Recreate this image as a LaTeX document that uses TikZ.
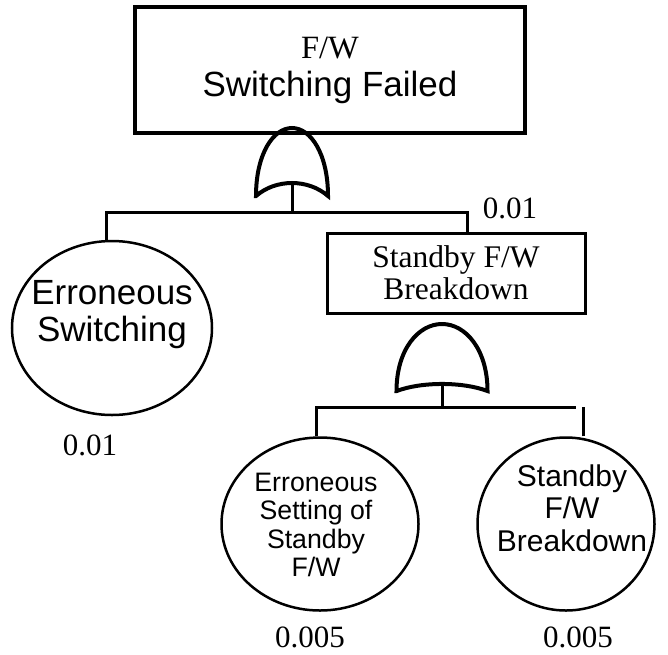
\documentclass[tikz,border=0pt]{standalone}
\usepackage{fontspec}
\setmainfont{Liberation Serif}
\setsansfont{Liberation Sans}
\usetikzlibrary{shapes.geometric, positioning}

% OR gate, base at the origin, unit half width and unit height; #1 sets the dip of the base
\tikzset{
  pics/orgate/.style={code={
    \draw[line width=4pt] (-1,0) .. controls (-1,-0.62) and (-0.52,-1) .. (0,-1)
      .. controls (0.52,-1) and (1,-0.62) .. (1,0)
      .. controls (0.45,-#1) and (-0.45,-#1) .. cycle;
    \coordinate (-out) at (0,-0.75*#1);
  }}
}

\begin{document}
\begin{tikzpicture}[x=1pt, y=-1pt,
  topbox/.style={draw, line width=3.5pt, minimum width=390pt, minimum height=126pt, align=center, font=\fontsize{32.5}{38}\selectfont},
  midbox/.style={draw, line width=3pt, minimum width=258pt, minimum height=80pt, align=center, font=\fontsize{31.5}{32}\selectfont},
  basic/.style={draw, ellipse, line width=2.5pt, inner sep=0pt},
  evtext/.style 2 args={align=center, font=\sffamily\fontsize{#1}{#2}\selectfont},
  prob/.style={font=\fontsize{31}{34}\selectfont, inner sep=1pt},
  wire/.style={line width=3pt}
]
  \useasboundingbox (0,0) rectangle (668,654);

  % top event and its gate
  \node[topbox] (top) at (330,70) {F/W\\\sffamily\fontsize{35}{38}\selectfont Switching Failed};
  \pic[xscale=36, yscale=68] (g1) at (292,196) {orgate=0.255};

  % intermediate event and its gate
  \node[midbox] (stby) at (456,273) {Standby F/W\\Breakdown};
  \pic[xscale=45.5, yscale=67] (g2) at (442,391) {orgate=0.14};

  % basic events
  \node[basic, minimum width=200pt, minimum height=174pt] (errsw) at (112,328) {};
  \node[evtext={35}{37}] (errswtxt) at (112,315) {Erroneous\\Switching};

  \node[basic, minimum width=197pt, minimum height=173pt] (erset) at (320,524) {};
  \node[evtext={26.7}{28.5}] (ersettxt) at (316,525) {Erroneous\\Setting of\\Standby\\F/W};

  \node[basic, minimum width=177pt, minimum height=173pt] (sbbrk) at (566,524) {};
  \node[evtext={30}{32.5}] (sbbrktxt) at (572,508) {Standby\\F/W\\Breakdown};

  % probabilities
  \node[prob] (pstby) at (510,208) {0.01};
  \node[prob] (perrsw) at (90,445) {0.01};
  \node[prob] (perset) at (310,637) {0.005};
  \node[prob] (psbbrk) at (578,637) {0.005};

  % connectors
  \coordinate (bar1) at (292,212);
  \draw[wire] (g1-out) -- (bar1);
  \draw[wire] ([xshift=-6pt]errsw.north) |- (bar1) -| ([xshift=11pt]stby.north);

  \coordinate (bar2) at (442,407);
  \draw[wire] (g2-out) -- (bar2);
  \draw[wire] ([xshift=-4pt]erset.north) |- (bar2) -- ++(134,0);
  \draw[wire] ([xshift=17pt]sbbrk.north) -- ++(0,-29);
\end{tikzpicture}
\end{document}
